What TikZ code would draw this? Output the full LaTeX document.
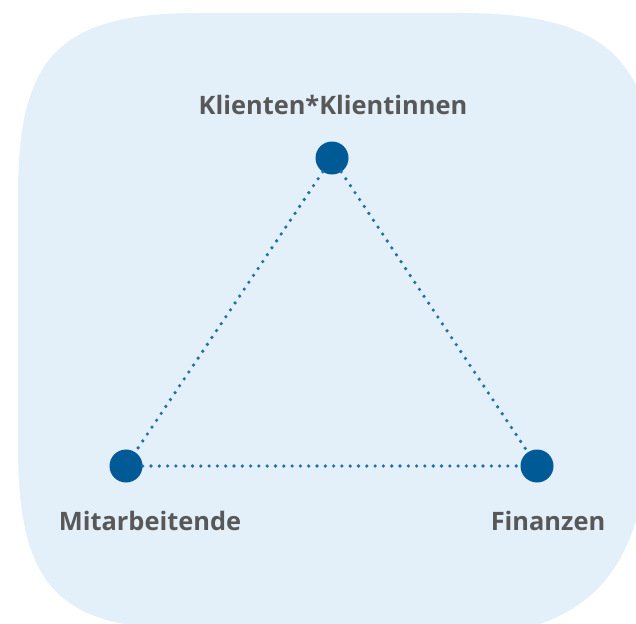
\documentclass[tikz,border=0pt]{standalone}
\usepackage{fontspec}
\setmainfont{Open Sans}
\usetikzlibrary{positioning}
\definecolor{bgblue}{HTML}{E3EFF9}
\definecolor{dotblue}{HTML}{005A96}
\definecolor{lineblue}{HTML}{1E70AC}
\definecolor{txtgray}{HTML}{585858}

\begin{document}
\begin{tikzpicture}[x=1pt,y=-1pt]
  \tikzset{punkt/.style  = {circle, fill=dotblue, minimum size=33pt, inner sep=0pt},
           lbl/.style    = {text=txtgray, font=\fontsize{25.4}{30}\selectfont\bfseries},
           verbind/.style = {lineblue, line width=3.6pt, line cap=round,
                            dash pattern=on 0pt off 8.3pt}}
  \useasboundingbox (0,0) rectangle (636,623);
  % background
  \fill[bgblue] (18,195) .. controls (18,55) and (60,13) .. (200,13)
     -- (460,13) .. controls (600,13) and (656,55) .. (656,195)
     -- (650,400) .. controls (650,580) and (590,640) .. (420,640)
     -- (200,630) .. controls (60,630) and (18,590) .. (18,446) -- cycle;

  \node[punkt] (kl)  at (332,158) {};
  \node[punkt] (mit) at (126,466) {};
  \node[punkt] (fin) at (537,466) {};

  \node[lbl] (kllbl)  at (333,105) {Klienten*Klientinnen};
  \node[lbl] (mitlbl) at (150,521) {Mitarbeitende};
  \node[lbl] (finlbl) at (548,521) {Finanzen};

  \draw[verbind] (kl) -- (mit);
  \draw[verbind] (kl) -- (fin);
  \draw[verbind] (mit) -- (fin);
\end{tikzpicture}
\end{document}
